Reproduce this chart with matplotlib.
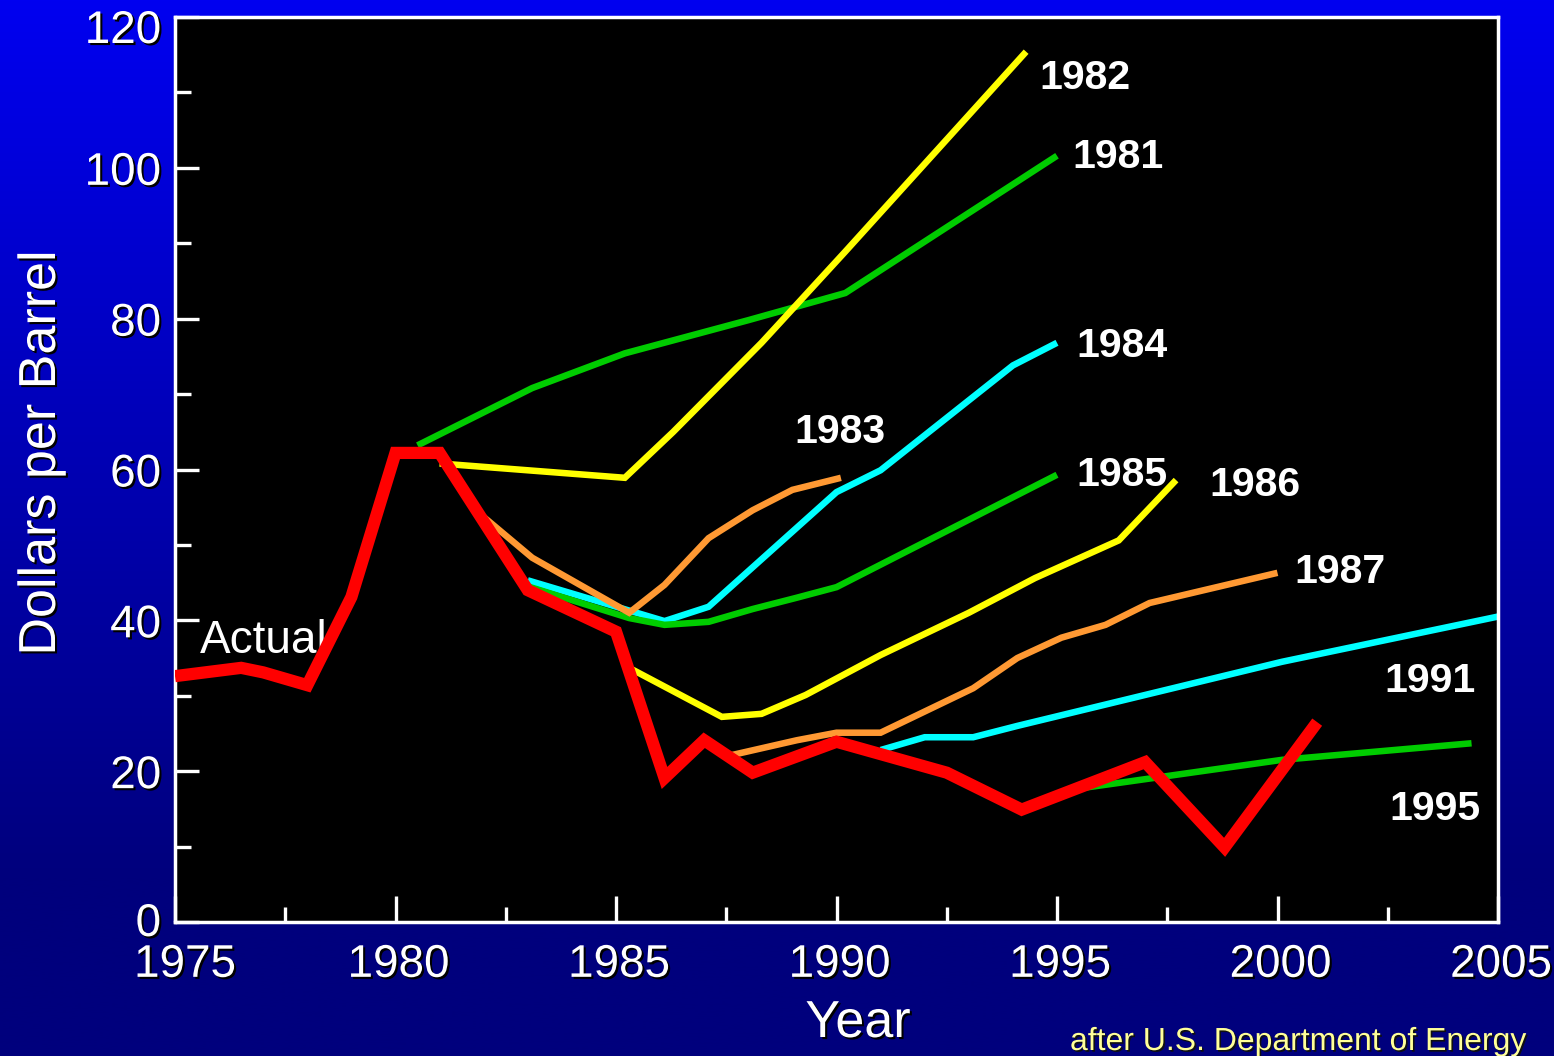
import numpy as np
import matplotlib
matplotlib.use("Agg")
import matplotlib.pyplot as plt
import matplotlib.patheffects as pe
import matplotlib.transforms as mtransforms
from matplotlib.ticker import MultipleLocator

plt.rcParams["font.family"] = ["Liberation Sans", "DejaVu Sans"]

# Actual oil price (dollars per barrel)
actual_years = [1975.0, 1976.5, 1977.0, 1978.0, 1979.0, 1980.0, 1981.0, 1983.0, 1985.0,
                1986.1, 1987.0, 1988.1, 1990.0, 1992.5, 1994.2, 1997.0, 1998.8, 2000.9]
actual_vals = [32.6, 33.7, 33.1, 31.4, 43.1, 62.2, 62.2, 44.0, 38.5,
               19.1, 24.1, 19.8, 23.9, 19.8, 14.9, 21.2, 9.9, 26.5]

# Price forecasts, labelled by the year each was issued
f1981_years = [1980.5, 1983.1, 1985.2, 1988.0, 1990.2, 1995.0]
f1981_vals = [63.2, 70.8, 75.4, 79.8, 83.4, 101.6]

f1982_years = [1981.0, 1985.2, 1986.3, 1988.3, 1990.2, 1994.3]
f1982_vals = [60.8, 58.9, 65.0, 76.8, 88.9, 115.4]

f1983_years = [1982.0, 1983.1, 1985.3, 1986.1, 1987.1, 1988.1, 1989.0, 1990.1]
f1983_vals = [53.7, 48.3, 41.0, 44.7, 50.9, 54.6, 57.3, 58.9]

f1984_years = [1983.0, 1986.1, 1987.1, 1990.0, 1991.0, 1994.0, 1995.0]
f1984_vals = [45.3, 39.9, 41.8, 57.0, 59.9, 73.8, 76.8]

f1985_years = [1983.0, 1985.3, 1986.1, 1987.1, 1988.1, 1989.1, 1990.0, 1995.0]
f1985_vals = [44.5, 40.3, 39.4, 39.8, 41.5, 43.0, 44.4, 59.3]

f1986_years = [1985.2, 1987.4, 1988.3, 1989.3, 1991.0, 1993.0, 1994.5, 1996.4, 1997.7]
f1986_vals = [34.0, 27.2, 27.6, 30.1, 35.4, 41.0, 45.6, 50.6, 58.6]

f1987_years = [1987.6, 1989.1, 1990.0, 1991.0, 1993.1, 1994.1, 1995.1, 1996.1, 1997.1, 2000.0]
f1987_vals = [22.1, 24.1, 25.1, 25.1, 31.0, 35.0, 37.7, 39.4, 42.3, 46.3]

f1991_years = [1991.0, 1992.0, 1993.1, 1994.1, 2000.1, 2005.0]
f1991_vals = [22.8, 24.5, 24.5, 26.0, 34.5, 40.5]

f1995_years = [1995.5, 2000.1, 2004.4]
f1995_vals = [17.7, 21.5, 23.7]

# Forecast labels: text, x centre, baseline y
label_text = ["1982", "1981", "1984", "1983", "1985", "1986", "1987", "1991", "1995"]
label_x = [1995.63, 1996.38, 1996.47, 1990.08, 1996.47, 1999.49, 2001.42, 2003.46, 2003.57]
label_y = [110.5, 100.0, 74.9, 63.5, 57.8, 56.5, 44.9, 30.5, 13.5]

x_ticks = [1975, 1980, 1985, 1990, 1995, 2000, 2005]
y_ticks = [0, 20, 40, 60, 80, 100, 120]

YELLOW = "#ffff00"
GREEN = "#00cc00"
CYAN = "#00ffff"
ORANGE = "#ff9933"
RED = "#ff0000"

W, H, DPI = 1554, 1056, 100
fig = plt.figure(figsize=(W / DPI, H / DPI), dpi=DPI)

# Blue gradient backdrop
bg = fig.add_axes([0, 0, 1, 1])
bg.set_axis_off()
rows = np.linspace(0, 1, 400)
t = np.clip(rows / 0.83, 0, 1)
top = np.array([0, 0, 240]) / 255
bot = np.array([0, 0, 125]) / 255
grad = (top[None, :] * (1 - t[:, None]) + bot[None, :] * t[:, None])
grad = np.repeat(grad[:, None, :], 2, axis=1)
bg.imshow(grad, aspect="auto", extent=[0, 1, 0, 1], origin="upper")
bg.set_xlim(0, 1)
bg.set_ylim(0, 1)

ax = fig.add_axes([175 / W, 1 - 922 / H, 1323 / W, 905 / H])
ax.set_facecolor("black")
ax.set_xlim(1975, 2005)
ax.set_ylim(0, 120)

line_kw = dict(lw=4.7, solid_capstyle="butt", solid_joinstyle="miter")
ax.plot(f1995_years, f1995_vals, color=GREEN, **line_kw)
ax.plot(f1991_years, f1991_vals, color=CYAN, **line_kw)
ax.plot(f1987_years, f1987_vals, color=ORANGE, **line_kw)
ax.plot(f1986_years, f1986_vals, color=YELLOW, **line_kw)
ax.plot(f1984_years, f1984_vals, color=CYAN, **line_kw)
ax.plot(f1985_years, f1985_vals, color=GREEN, **line_kw)
ax.plot(f1983_years, f1983_vals, color=ORANGE, **line_kw)
ax.plot(f1981_years, f1981_vals, color=GREEN, **line_kw)
ax.plot(f1982_years, f1982_vals, color=YELLOW, **line_kw)

ax.text(1975.57, 35.7, "Actual", color="white", fontsize=33, ha="left", va="baseline", zorder=4)
ax.plot(actual_years, actual_vals, color=RED, lw=8.8, solid_capstyle="butt",
        solid_joinstyle="miter", zorder=5)

for txt, lx, ly in zip(label_text, label_x, label_y):
    ax.text(lx, ly, txt, color="white", fontsize=29.5, fontweight="bold",
            ha="center", va="baseline", zorder=6)

# Axes frame and ticks
for sp in ax.spines.values():
    sp.set_color("white")
    sp.set_linewidth(2.5)

ax.set_xticks(x_ticks)
ax.set_yticks(y_ticks)
ax.xaxis.set_minor_locator(MultipleLocator(2.5))
ax.yaxis.set_minor_locator(MultipleLocator(10))
ax.tick_params(axis="x", which="major", direction="in", length=18.5, width=2.4,
               color="white", labelcolor="white", labelsize=33, pad=15)
ax.tick_params(axis="x", which="minor", direction="in", length=11, width=2.4, color="white")
ax.tick_params(axis="y", which="major", direction="in", length=17.5, width=2.4,
               color="white", labelcolor="white", labelsize=33, pad=10)
ax.tick_params(axis="y", which="minor", direction="in", length=11.5, width=2.4, color="white")

shadow = [pe.withSimplePatchShadow(offset=(1.5, -1.5), shadow_rgbFace="black", alpha=1.0)]
xlabels = ax.get_xticklabels()
ylabels = ax.get_yticklabels()
for lab in xlabels + ylabels:
    lab.set_path_effects(shadow)


def nudge(lab, dx_px, dy_px):
    off = mtransforms.ScaledTranslation(dx_px / DPI, dy_px / DPI, fig.dpi_scale_trans)
    lab.set_transform(lab.get_transform() + off)


# first year label sits clear of the corner; top value label sits a little lower
nudge(xlabels[0], 10, 0)
for lab in xlabels[1:]:
    nudge(lab, 3, 0)
nudge(ylabels[-1], 0, -9)
nudge(ylabels[0], 0, 3)

ax.set_xlabel("Year", color="white", fontsize=37.5, path_effects=shadow)
ax.xaxis.label.set_va("baseline")
ax.xaxis.set_label_coords((858 - 175) / 1323, (922 - 1037) / 905)

ax.set_ylabel("Dollars per Barrel", color="white", fontsize=37.5, path_effects=shadow)
ax.yaxis.label.set_va("baseline")
ax.yaxis.set_label_coords((55 - 175) / 1323, (922 - 453) / 905)

fig.text(1070 / W, 1 - 1050 / H, "after U.S. Department of Energy", color="#ffff99",
         fontsize=23, ha="left", va="baseline",
         path_effects=[pe.withSimplePatchShadow(offset=(1.2, -1.2), shadow_rgbFace="#101010", alpha=1.0)])

fig.savefig("out.png", dpi=DPI)
